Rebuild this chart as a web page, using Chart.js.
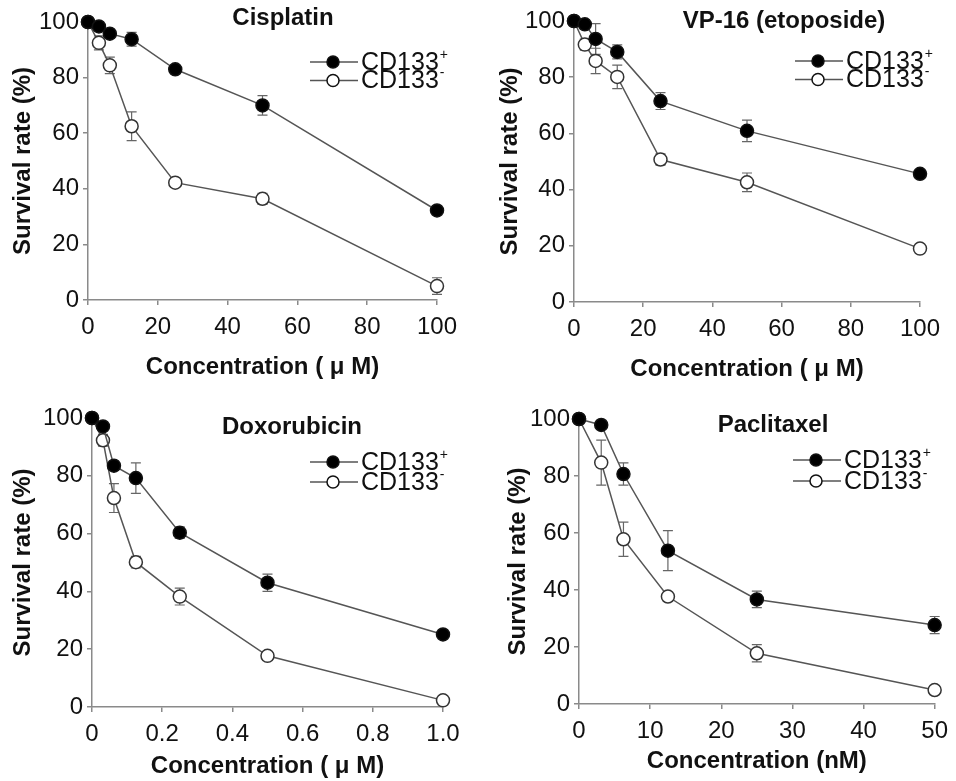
<!DOCTYPE html>
<html>
<head>
<meta charset="utf-8">
<script src="https://cdn.jsdelivr.net/npm/chart.js@4"></script>
<style>
  body { margin: 0; background: #fff; }
  .panel { position: absolute; }
</style>
</head>
<body>
<div class="panel" style="left:0;top:0"><canvas id="c1" width="478" height="390"></canvas></div>
<div class="panel" style="left:478px;top:0"><canvas id="c2" width="478" height="390"></canvas></div>
<div class="panel" style="left:0;top:390px"><canvas id="c3" width="478" height="391"></canvas></div>
<div class="panel" style="left:478px;top:390px"><canvas id="c4" width="478" height="391"></canvas></div>
<script>
// ---- data ----
const seriesNames = ['CD133', 'CD133'];
const seriesSigns = ['+', '-'];
const yTicks = [0, 20, 40, 60, 80, 100];

// Cisplatin (uM)
const cisX = [0, 3.125, 6.25, 12.5, 25, 50, 100];
const cisPos = [100, 98.4, 95.8, 93.8, 83, 70, 32.2];
const cisPosErr = [0.5, 1.5, 1.5, 2.5, 1, 3.5, 1];
const cisNeg = [100, 92.5, 84.4, 62.5, 42.2, 36.4, 5];
const cisNegErr = [0.5, 2.5, 3, 5.2, 1, 2, 3];
const cisTicks = [0, 20, 40, 60, 80, 100];
const cisTickLabels = ['0', '20', '40', '60', '80', '100'];

// VP-16 (uM)
const vpX = [0, 3.125, 6.25, 12.5, 25, 50, 100];
const vpPos = [100, 98.8, 93.6, 89, 71.5, 60.9, 45.6];
const vpPosErr = [0.5, 1.5, 5.5, 2.5, 3, 3.8, 1];
const vpNeg = [100, 91.6, 85.8, 80.1, 50.7, 42.6, 19];
const vpNegErr = [0.5, 2, 4.5, 4.2, 2, 3.3, 1];
const vpTicks = [0, 20, 40, 60, 80, 100];
const vpTickLabels = ['0', '20', '40', '60', '80', '100'];

// Doxorubicin (uM)
const doxX = [0, 0.03125, 0.0625, 0.125, 0.25, 0.5, 1.0];
const doxPos = [100, 97.1, 83.5, 79.2, 60.3, 43, 25.1];
const doxPosErr = [0.5, 1, 1.5, 5.3, 2, 3, 1];
const doxNeg = [100, 92.3, 72.3, 50.1, 38.2, 17.7, 2.3];
const doxNegErr = [0.5, 2, 5, 2, 2.9, 1, 1];
const doxTicks = [0, 0.2, 0.4, 0.6, 0.8, 1.0];
const doxTickLabels = ['0', '0.2', '0.4', '0.6', '0.8', '1.0'];

// Paclitaxel (nM)
const pacX = [0, 3.125, 6.25, 12.5, 25, 50];
const pacPos = [100, 97.9, 80.7, 53.8, 36.7, 27.7];
const pacPosErr = [0.5, 1, 3.9, 7, 2.9, 3];
const pacNeg = [100, 84.7, 57.8, 37.7, 17.8, 4.9];
const pacNegErr = [0.5, 7.9, 6, 1, 3, 1];
const pacTicks = [0, 10, 20, 30, 40, 50];
const pacTickLabels = ['0', '10', '20', '30', '40', '50'];

const FONT = 'Liberation Sans, Arial, sans-serif';
const AXIS = '#8a8a8a';
const LINE = '#555';

// error bars drawn through the chart's own scales
const errorBars = {
  id: 'errorBars',
  beforeDatasetsDraw(chart) {
    const ctx = chart.ctx;
    const xs = chart.scales.x, ys = chart.scales.y;
    ctx.save();
    ctx.strokeStyle = '#666';
    ctx.lineWidth = 1.2;
    chart.data.datasets.forEach(ds => {
      ds.data.forEach((p, i) => {
        const e = ds.errors[i];
        const px = xs.getPixelForValue(p.x);
        const y1 = ys.getPixelForValue(p.y + e);
        const y2 = ys.getPixelForValue(p.y - e);
        ctx.beginPath();
        ctx.moveTo(px, y1); ctx.lineTo(px, y2);
        ctx.moveTo(px - 5, y1); ctx.lineTo(px + 5, y1);
        ctx.moveTo(px - 5, y2); ctx.lineTo(px + 5, y2);
        ctx.stroke();
      });
    });
    ctx.restore();
  }
};

// panel title and line+marker legend
const decorations = {
  id: 'decorations',
  afterDraw(chart, args, opts) {
    const ctx = chart.ctx;
    ctx.save();
    ctx.fillStyle = '#111';
    ctx.font = 'bold 24px ' + FONT;
    ctx.textAlign = 'center';
    ctx.textBaseline = 'middle';
    ctx.fillText(opts.title, opts.titleX, opts.titleY);

    seriesNames.forEach((name, i) => {
      const y = opts.legendY + i * opts.legendGap;
      ctx.strokeStyle = LINE;
      ctx.lineWidth = 1.5;
      ctx.beginPath();
      ctx.moveTo(opts.legendX, y);
      ctx.lineTo(opts.legendX + 48, y);
      ctx.stroke();
      ctx.beginPath();
      ctx.arc(opts.legendX + 23, y, 6, 0, Math.PI * 2);
      ctx.fillStyle = i === 0 ? '#000' : '#fff';
      ctx.fill();
      ctx.strokeStyle = '#111';
      ctx.stroke();
      ctx.fillStyle = '#111';
      ctx.textAlign = 'left';
      ctx.font = '25px ' + FONT;
      ctx.fillText(name, opts.legendX + 51, y + 1);
      const w = ctx.measureText(name).width;
      ctx.font = '14px ' + FONT;
      ctx.fillText(seriesSigns[i], opts.legendX + 52 + w, y - 7);
    });
    ctx.restore();
  }
};

function makeChart(id, cfg) {
  const xTicks = cfg.ticks, xLabels = cfg.labels;
  new Chart(document.getElementById(id), {
    type: 'line',
    data: {
      datasets: [
        {
          label: 'CD133+',
          data: cfg.x.map((x, i) => ({ x: x, y: cfg.pos[i] })),
          errors: cfg.posErr,
          borderColor: LINE, borderWidth: 1.5,
          pointRadius: 6.5, pointBackgroundColor: '#000',
          pointBorderColor: '#111', pointBorderWidth: 1.5,
          clip: false
        },
        {
          label: 'CD133-',
          data: cfg.x.map((x, i) => ({ x: x, y: cfg.neg[i] })),
          errors: cfg.negErr,
          borderColor: LINE, borderWidth: 1.5,
          pointRadius: 6.5, pointBackgroundColor: '#fff',
          pointBorderColor: '#333', pointBorderWidth: 1.5,
          clip: false
        }
      ]
    },
    options: {
      responsive: false,
      animation: false,
      layout: { padding: cfg.padding },
      plugins: {
        legend: { display: false },
        tooltip: { enabled: false },
        decorations: cfg.deco
      },
      scales: {
        x: {
          type: 'linear',
          min: xTicks[0], max: xTicks[xTicks.length - 1],
          afterBuildTicks: s => { s.ticks = xTicks.map(v => ({ value: v })); },
          afterFit: s => { s.height = cfg.xHeight; },
          ticks: {
            callback: (v, i) => xLabels[i],
            font: { family: FONT, size: 24, lineHeight: 1.2 },
            color: '#111', padding: 8, maxRotation: 0
          },
          grid: { drawOnChartArea: false, tickLength: 5, color: AXIS, lineWidth: 1.5 },
          border: { color: AXIS, width: 1.5 },
          title: {
            display: true, text: cfg.xTitle, color: '#111',
            font: { family: FONT, size: 24, weight: 'bold', lineHeight: 1.2 },
            padding: { top: 0, bottom: cfg.xTitlePad }
          }
        },
        y: {
          min: 0, max: 100,
          afterBuildTicks: s => { s.ticks = yTicks.map(v => ({ value: v })); },
          afterFit: s => { s.width = cfg.yWidth; },
          ticks: {
            font: { family: FONT, size: 24, lineHeight: 1.2 },
            color: '#111', padding: 4
          },
          grid: { drawOnChartArea: false, tickLength: 5, color: AXIS, lineWidth: 1.5 },
          border: { color: AXIS, width: 1.5 },
          title: {
            display: true, text: 'Survival rate (%)', color: '#111',
            font: { family: FONT, size: 24, weight: 'bold', lineHeight: 1.2 },
            padding: { top: 0, bottom: 0 }
          }
        }
      }
    },
    plugins: [errorBars, decorations]
  });
}

makeChart('c1', {
  x: cisX, pos: cisPos, posErr: cisPosErr, neg: cisNeg, negErr: cisNegErr,
  ticks: cisTicks, labels: cisTickLabels, xTitle: 'Concentration ( \u03bc M)',
  padding: { left: 9, right: 41, top: 22, bottom: 0 },
  yWidth: 79, xHeight: 90, xTitlePad: 8,
  deco: { title: 'Cisplatin', titleX: 283, titleY: 18, legendX: 310, legendY: 62, legendGap: 18.5 }
});

makeChart('c2', {
  x: vpX, pos: vpPos, posErr: vpPosErr, neg: vpNeg, negErr: vpNegErr,
  ticks: vpTicks, labels: vpTickLabels, xTitle: 'Concentration ( \u03bc M)',
  padding: { left: 18, right: 36, top: 21, bottom: 0 },
  yWidth: 78, xHeight: 88, xTitlePad: 6,
  deco: { title: 'VP-16 (etoposide)', titleX: 306, titleY: 21, legendX: 317, legendY: 61, legendGap: 18.5 }
});

makeChart('c3', {
  x: doxX, pos: doxPos, posErr: doxPosErr, neg: doxNeg, negErr: doxNegErr,
  ticks: doxTicks, labels: doxTickLabels, xTitle: 'Concentration ( \u03bc M)',
  padding: { left: 9, right: 35, top: 28, bottom: 0 },
  yWidth: 83, xHeight: 74, xTitlePad: 0,
  deco: { title: 'Doxorubicin', titleX: 292, titleY: 37, legendX: 310, legendY: 72, legendGap: 20 }
});

makeChart('c4', {
  x: pacX, pos: pacPos, posErr: pacPosErr, neg: pacNeg, negErr: pacNegErr,
  ticks: pacTicks, labels: pacTickLabels, xTitle: 'Concentration (nM)',
  padding: { left: 26, right: 18, top: 29, bottom: 0 },
  yWidth: 75, xHeight: 77, xTitlePad: 5,
  deco: { title: 'Paclitaxel', titleX: 295, titleY: 35, legendX: 315, legendY: 70, legendGap: 21 }
});
</script>
</body>
</html>
